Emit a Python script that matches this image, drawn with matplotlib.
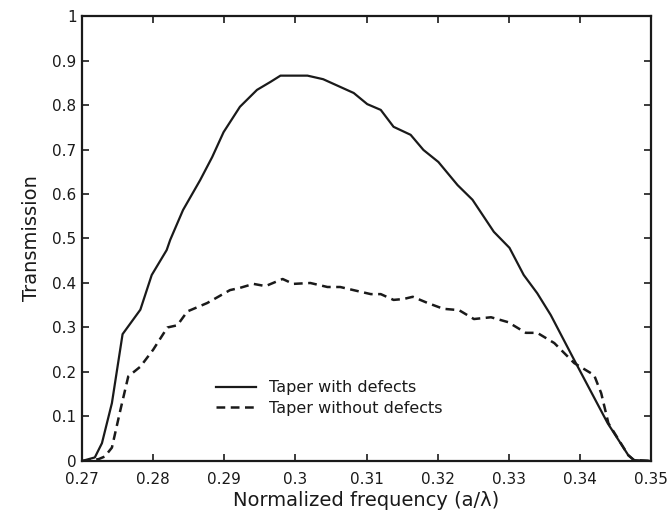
import matplotlib
matplotlib.use("Agg")
import matplotlib.pyplot as plt

# Taper with defects (solid)
x_with = [0.270, 0.2718, 0.2728, 0.2742, 0.2757, 0.2782, 0.2798, 0.2819, 0.2824, 0.2842,
          0.2866, 0.2883, 0.2899, 0.2922, 0.2946, 0.2965, 0.2979, 0.3017, 0.3039, 0.3082,
          0.3101, 0.3120, 0.3138, 0.3162, 0.3180, 0.3201, 0.3228, 0.3249, 0.3279, 0.3301,
          0.3321, 0.3340, 0.3359, 0.3392, 0.3439, 0.3468, 0.3476, 0.3500]
y_with = [0.000, 0.008, 0.040, 0.130, 0.285, 0.340, 0.418, 0.474, 0.497, 0.564,
          0.631, 0.683, 0.739, 0.796, 0.834, 0.852, 0.866, 0.866, 0.858, 0.827,
          0.802, 0.789, 0.751, 0.733, 0.699, 0.672, 0.620, 0.587, 0.515, 0.479,
          0.418, 0.377, 0.328, 0.227, 0.085, 0.013, 0.002, 0.000]

# Taper without defects (dashed)
x_without = [0.270, 0.2723, 0.2732, 0.2742, 0.2754, 0.2765, 0.2782, 0.2800, 0.2820, 0.2834,
             0.2848, 0.2876, 0.2908, 0.2922, 0.2941, 0.2958, 0.2982, 0.2997, 0.3021, 0.3045,
             0.3063, 0.3087, 0.3106, 0.3120, 0.3138, 0.3152, 0.3165, 0.3186, 0.3208, 0.3230,
             0.3251, 0.3275, 0.3299, 0.3324, 0.3340, 0.3364, 0.3392, 0.3420, 0.3430, 0.3440,
             0.3468, 0.3476, 0.3500]
y_without = [0.000, 0.004, 0.010, 0.030, 0.115, 0.190, 0.212, 0.250, 0.300, 0.305,
             0.336, 0.355, 0.384, 0.389, 0.398, 0.393, 0.409, 0.398, 0.400, 0.391,
             0.391, 0.382, 0.375, 0.375, 0.362, 0.364, 0.369, 0.355, 0.342, 0.339,
             0.319, 0.323, 0.312, 0.288, 0.288, 0.265, 0.220, 0.193, 0.152, 0.085,
             0.013, 0.002, 0.000]

x_ticks = [0.27, 0.28, 0.29, 0.30, 0.31, 0.32, 0.33, 0.34, 0.35]
x_tick_labels = ["0.27", "0.28", "0.29", "0.3", "0.31", "0.32", "0.33", "0.34", "0.35"]
y_ticks = [0, 0.1, 0.2, 0.3, 0.4, 0.5, 0.6, 0.7, 0.8, 0.9, 1.0]
y_tick_labels = ["0", "0.1", "0.2", "0.3", "0.4", "0.5", "0.6", "0.7", "0.8", "0.9", "1"]

plt.rcParams['font.family'] = ['DejaVu Sans']
fig = plt.figure(figsize=(6.68, 5.2), dpi=100)
ax = fig.add_axes([0.1228, 0.1135, 0.8518, 0.8557])

ax.plot(x_with, y_with, color="#1a1a1a", lw=1.6, linestyle="-", label="Taper with defects")
ax.plot(x_without, y_without, color="#1a1a1a", lw=1.8, linestyle=(0, (3.5, 2.2)),
        label="Taper without defects")

ax.set_xlim(0.27, 0.35)
ax.set_ylim(0, 1)
ax.set_xticks(x_ticks)
ax.set_xticklabels(x_tick_labels)
ax.set_yticks(y_ticks)
ax.set_yticklabels(y_tick_labels)
ax.tick_params(direction="in", top=True, right=True, length=5, width=1.2,
               labelsize=11, colors="#1a1a1a", pad=4)
ax.tick_params(axis="x", pad=8)
for s in ax.spines.values():
    s.set_linewidth(1.6)
    s.set_color("#1a1a1a")

ax.set_xlabel("Normalized frequency (a/λ)", fontsize=14, color="#1a1a1a", labelpad=3)
ax.set_ylabel("Transmission", fontsize=14, color="#1a1a1a", labelpad=8)

leg = ax.legend(loc="upper left", bbox_to_anchor=(0.224, 0.196), frameon=False,
                fontsize=11.5, handlelength=2.5, handletextpad=0.8, labelspacing=0.35,
                borderaxespad=0)
for t in leg.get_texts():
    t.set_color("#1a1a1a")

fig.savefig("out.png", dpi=100)
